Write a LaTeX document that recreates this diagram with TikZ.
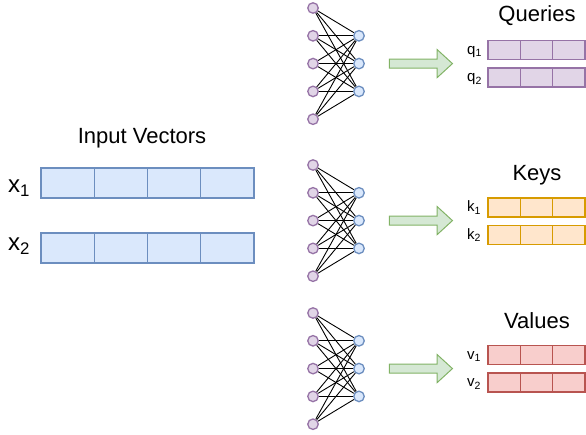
\documentclass[tikz,border=0pt]{standalone}
\usepackage{fontspec}
\setmainfont{Liberation Sans}
\usetikzlibrary{shapes.arrows}

\definecolor{inFill}{HTML}{DAE8FC}
\definecolor{inLine}{HTML}{6C8EBF}
\definecolor{qFill}{HTML}{E1D5E7}
\definecolor{qLine}{HTML}{9673A6}
\definecolor{kFill}{HTML}{FFE6CC}
\definecolor{kLine}{HTML}{D79B00}
\definecolor{vFill}{HTML}{F8CECC}
\definecolor{vLine}{HTML}{B85450}
\definecolor{arrFill}{HTML}{D5E8D4}
\definecolor{arrLine}{HTML}{82B366}

\newcommand{\lowidx}[1]{\raisebox{-0.18em}{\scalebox{0.7}{#1}}}

\begin{document}
\begin{tikzpicture}[x=1pt, y=-1pt,
inneuron/.style={circle, draw=qLine, fill=qFill, line width=1.3pt, minimum size=10.5pt, inner sep=0pt},
outneuron/.style={circle, draw=inLine, fill=inFill, line width=1.3pt, minimum size=10.5pt, inner sep=0pt},
edge/.style={black, line width=0.9pt},
cell/.style={rectangle, line width=1.1pt, minimum width=32.33pt, minimum height=19pt, inner sep=0pt},
bigarrow/.style={single arrow, draw=arrLine, fill=arrFill, line width=1pt, minimum height=63pt,
  text width=0pt, text height=4pt, text depth=4pt, inner sep=0pt,
  single arrow head extend=9.5pt, single arrow tip angle=85},
title/.style={font=\fontsize{22}{26}\selectfont, anchor=base, inner sep=0pt},
xlbl/.style={font=\fontsize{24}{28}\selectfont, anchor=base west, inner sep=0pt},
lbl/.style={font=\fontsize{15}{18}\selectfont, anchor=base west, inner sep=0pt}
]
\useasboundingbox (0,0) rectangle (586,434);

%Input vectors
\node[title] (intitle) at (142,143) {Input Vectors};
\node[xlbl] (x1l) at (8,192) {x\lowidx{1}};
\node[xlbl] (x2l) at (8,250) {x\lowidx{2}};
\foreach \r/\yy in {1/183, 2/248}
  \foreach \c in {1,...,4}
    \node[cell, fill=inFill, draw=inLine, minimum width=53.25pt, minimum height=30pt] (x\r-\c) at ({41+53.25*(\c-0.5)}, \yy) {};

%Networks and arrows
\foreach \g/\yt in {q/8, k/165, v/313} {
  \foreach \i in {1,...,5}
    \node[inneuron] (\g-in\i) at (313, {\yt+27.8*(\i-1)}) {};
  \foreach \j in {1,2,3}
    \node[outneuron] (\g-out\j) at (359, {\yt+27.8*\j}) {};
  \foreach \i in {1,...,5}
    \foreach \j in {1,2,3}
      \draw[edge] (\g-in\i) -- (\g-out\j);
  \node[bigarrow] (\g-arr) at (418.5, {\yt+55.6}) {};
}

%Output vectors
\foreach \g/\fc/\dc/\ya/\yb in {q/qFill/qLine/50/77.5, k/kFill/kLine/207.5/235, v/vFill/vLine/355/382.5}
  \foreach \r/\yy in {1/\ya, 2/\yb}
    \foreach \c in {1,2,3}
      \node[cell, fill=\fc, draw=\dc] (\g\r-\c) at ({488+32.33*(\c-0.5)}, \yy) {};

\node[title] (qtitle) at (537,21) {Queries};
\node[title] (ktitle) at (537,180) {Keys};
\node[title] (vtitle) at (537,328) {Values};

\node[lbl] (q1l) at (467,54) {q\lowidx{1}};
\node[lbl] (q2l) at (467,81.5) {q\lowidx{2}};
\node[lbl] (k1l) at (467,211.5) {k\lowidx{1}};
\node[lbl] (k2l) at (467,239) {k\lowidx{2}};
\node[lbl] (v1l) at (467,359) {v\lowidx{1}};
\node[lbl] (v2l) at (467,386.5) {v\lowidx{2}};
\end{tikzpicture}
\end{document}
